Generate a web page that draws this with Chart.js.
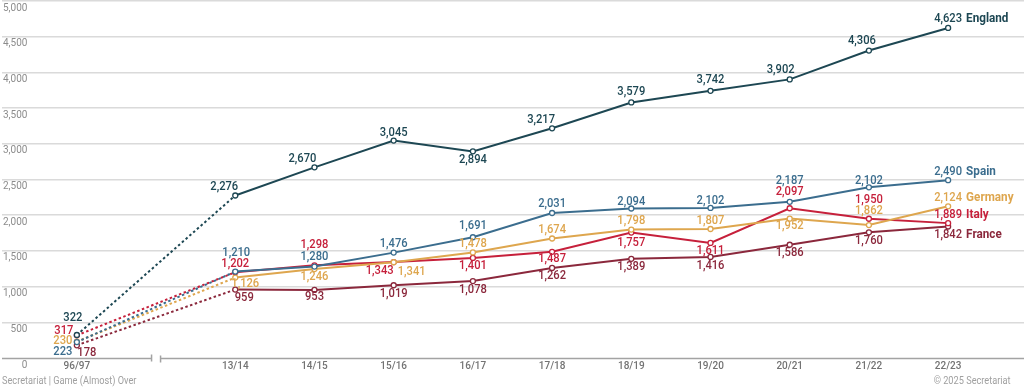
<!DOCTYPE html>
<html>
<head>
<meta charset="utf-8">
<script src="https://cdn.jsdelivr.net/npm/chart.js@4/dist/chart.umd.min.js"></script>
<style>
html,body{margin:0;padding:0;background:#fff;}
#wrap{position:relative;width:1024px;height:389px;overflow:hidden;}
#wrap canvas{position:absolute;left:0;top:0;}
.foot{position:absolute;top:374px;font:10px "Roboto",sans-serif;color:#a0a0a0;white-space:nowrap;line-height:14px;transform:scaleX(0.92);}
</style>
</head>
<body>
<div id="wrap">
  <canvas id="c" width="1024" height="389"></canvas>
  <div class="foot" style="left:2px;transform-origin:left center;">Secretariat | Game (Almost) Over</div>
  <div class="foot" style="right:13px;transform-origin:right center;">© 2025 Secretariat</div>
</div>
<script>
// ---- data ----
const seasons    = ['96/97','13/14','14/15','15/16','16/17','17/18','18/19','19/20','20/21','21/22','22/23'];
const seasonSlot = [0, 2, 3, 4, 5, 6, 7, 8, 9, 10, 11];   // slot 1 = omitted years (axis break)
const breakSlot  = 1;
const yTicks     = [0,500,1000,1500,2000,2500,3000,3500,4000,4500,5000];

const england = [322, 2276, 2670, 3045, 2894, 3217, 3579, 3742, 3902, 4306, 4623];
const spain   = [223, 1210, 1280, 1476, 1691, 2031, 2094, 2102, 2187, 2390, 2490];
const germany = [230, 1126, 1246, 1341, 1478, 1674, 1798, 1807, 1952, 1862, 2124];
const italy   = [317, 1202, 1298, 1343, 1401, 1487, 1757, 1611, 2097, 1950, 1889];
const france  = [178,  959,  953, 1019, 1078, 1262, 1389, 1416, 1586, 1760, 1842];
// value labels as printed on the reference (Spain 21/22 is printed "2,102")
const spainPrinted = [223, 1210, 1280, 1476, 1691, 2031, 2094, 2102, 2187, 2102, 2490];

// ---- label placement (style: pixel offsets of label centre from its point) ----
const offEngland = [[-4,-17],[-11,-9],[-12,-9],[0,-8],[0,8],[-11,-9],[0,-11],[0,-11],[-9,-10],[-7,-10],[0,-9]];
const offSpain   = [[-14,10],[1,-19],[0,-10],[0,-9],[0,-12],[0,-9],[0,-7],[0,-7],[0,-21],[0,-7],[0,-8]];
const offGermany = [[-14,-1],[10,6],[0,8],[18,9],[0,-9],[0,-9],[0,-9],[0,-8],[0,7],[0,-14],[0,-9]];
const offItaly   = [[-13,-5],[0,-8],[0,-21],[-14,9],[0,8],[0,7],[0,10],[0,8],[0,-17],[0,-19],[0,-8]];
const offFrance  = [[10,7],[9,8],[0,7],[0,9],[0,9],[0,8],[0,8],[0,9],[0,8],[0,8],[0,8]];

const fmt = v => v.toLocaleString('en-US');

const series = [
  {name:'England', values:england, printed:england,      color:'#1d4753', off:offEngland},
  {name:'Spain',   values:spain,   printed:spainPrinted, color:'#3b6d8e', off:offSpain},
  {name:'Germany', values:germany, printed:germany,      color:'#dea64e', off:offGermany},
  {name:'Italy',   values:italy,   printed:italy,        color:'#c6203b', off:offItaly},
  {name:'France',  values:france,  printed:france,       color:'#8b283c', off:offFrance}
];

const datasets = series.map(s => ({
  label: s.name,
  data: s.values.map((v,i) => ({x: seasonSlot[i], y: v})),
  borderColor: s.color,
  backgroundColor: '#ffffff',
  borderWidth: 2,
  tension: 0,
  pointRadius: 2.5,
  pointBorderWidth: 1.3,
  pointBackgroundColor: '#ffffff',
  pointBorderColor: s.color,
  segment: { borderDash: c => c.p0DataIndex === 0 ? [2.5, 2.5] : undefined }
}));

function condensedText(ctx, text, x, y, sx) {
  ctx.save();
  ctx.translate(x, y);
  ctx.scale(sx, 1);
  ctx.fillText(text, 0, 0);
  ctx.restore();
}

const labelPlugin = {
  id: 'pointLabels',
  afterDatasetsDraw(chart) {
    const ctx = chart.ctx;
    series.forEach((s, di) => {
      const meta = chart.getDatasetMeta(di);
      ctx.save();
      ctx.fillStyle = s.color;
      ctx.textBaseline = 'middle';
      ctx.textAlign = 'center';
      ctx.font = '500 13px "Roboto", sans-serif';
      meta.data.forEach((pt, i) => {
        const o = s.off[i];
        condensedText(ctx, fmt(s.printed[i]), pt.x + o[0], pt.y + o[1], 0.86);
      });
      const n = meta.data.length - 1, last = meta.data[n];
      ctx.textAlign = 'left';
      ctx.font = 'bold 13px "Roboto", sans-serif';
      condensedText(ctx, s.name, last.x + 18, last.y + s.off[n][1], 0.9);
      ctx.restore();
    });
  }
};

const axisPlugin = {
  id: 'axisBreak',
  beforeDatasetsDraw(chart) {
    const {ctx, chartArea, scales:{x, y}} = chart;
    const py = Math.round(y.getPixelForValue(0)) + 0.5;
    const bx = x.getPixelForValue(breakSlot);
    ctx.save();
    ctx.strokeStyle = '#a3a3a3';
    ctx.lineWidth = 1.5;
    ctx.beginPath();
    ctx.moveTo(chartArea.left, py); ctx.lineTo(bx - 4.5, py);
    ctx.moveTo(bx + 4.5, py); ctx.lineTo(chartArea.right, py);
    ctx.moveTo(bx - 4.5, py - 4); ctx.lineTo(bx - 4.5, py + 3);
    ctx.moveTo(bx + 4.5, py - 3); ctx.lineTo(bx + 4.5, py + 4);
    ctx.stroke();
    ctx.restore();
  }
};

new Chart(document.getElementById('c'), {
  type: 'line',
  data: { datasets },
  options: {
    responsive: false,
    animation: false,
    devicePixelRatio: 1,
    layout: { autoPadding: false, padding: { top: 1, left: 0, right: 0, bottom: 0 } },
    plugins: { legend: {display:false}, tooltip: {enabled:false} },
    scales: {
      x: {
        type: 'linear',
        min: -0.945, max: 11.958,
        grid: { display: false, drawTicks: false },
        border: { display: false },
        afterBuildTicks: s => { s.ticks = seasonSlot.map(v => ({value: v})); },
        afterFit: s => { s.height = 31; s.paddingLeft = 0; s.paddingRight = 0; },
        ticks: {
          autoSkip: false, maxRotation: 0, padding: 2,
          color: '#737373', font: { family: 'Roboto', size: 10, weight: '500' },
          callback: v => { const k = seasonSlot.indexOf(v); return k >= 0 ? seasons[k] : ''; }
        }
      },
      y: {
        min: 0, max: 5000,
        afterBuildTicks: s => { s.ticks = yTicks.map(v => ({value: v})); },
        afterFit: s => { s.paddingTop = 0; s.paddingBottom = 0; },
        grid: {
          drawTicks: false, lineWidth: 1.5,
          color: c => (c.tick && c.tick.value === 0) ? 'rgba(0,0,0,0)' : '#dadada'
        },
        border: { display: false },
        ticks: {
          mirror: true, crossAlign: 'far', padding: 1, labelOffset: 7,
          color: '#8c8c8c', font: { family: 'Roboto', size: 10 },
          callback: v => fmt(v)
        }
      }
    }
  },
  plugins: [axisPlugin, labelPlugin]
});
</script>
</body>
</html>
